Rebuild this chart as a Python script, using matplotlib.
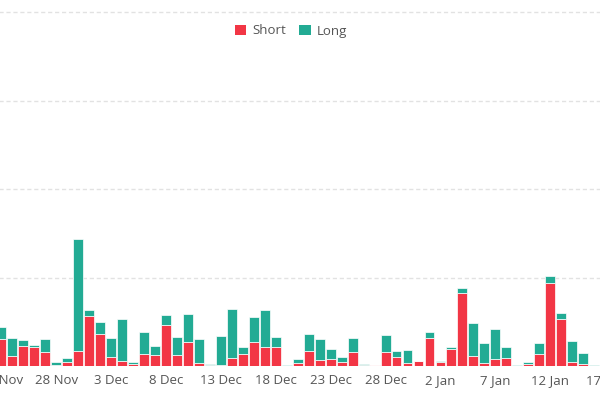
import numpy as np
import pandas as pd
import matplotlib
matplotlib.use("Agg")
import matplotlib.pyplot as plt
import matplotlib.dates as mdates
from matplotlib.patches import Patch

# daily values, 23 Nov .. 16 Jan
dates = pd.date_range("2023-11-23", "2024-01-16", freq="D")
short = [30, 11, 23, 21, 16, 1, 4, 17, 57, 36,
         10, 6, 2, 14, 12, 46, 12, 27, 3, 1,
         1, 9, 14, 27, 22, 21, 0.5, 3, 17, 7,
         8, 4, 16, 1, 0.8, 15.5, 10, 3, 5.5, 32,
         4, 19, 82.5, 11, 3, 7.5, 9, 0.3, 2.6, 13,
         93.5, 53, 5, 2, 0.3]
long = [14, 21, 6, 3, 14, 3, 5, 127, 6, 14,
        22, 47, 3, 24, 11, 12, 21, 32, 27, 1.5,
        33, 55, 8, 28, 41, 12, 0.3, 5, 19, 23,
        11, 6, 16, 1.5, 0.7, 20, 7, 15, 0.3, 6.5,
        2, 2, 5.5, 38, 22.5, 34.5, 13, 0.8, 1.6, 13.5,
        8, 7, 23.5, 12.5, 0.8]
tick_dates = pd.date_range("2023-11-18", "2024-01-22", freq="5D")

red = "#F23645"
green = "#22AB94"
txt = "#555555"

plt.rcParams["font.family"] = ["Open Sans", "DejaVu Sans"]

fig = plt.figure(figsize=(6, 4), dpi=100)
# axes run past both figure edges, so the first and last days are cut off
ax = fig.add_axes([-0.1, 34 / 400, 1.2, 366 / 400])

x = mdates.date2num(dates)
ax.bar(x, short, width=0.9, color=red, edgecolor="white", linewidth=0.5, zorder=2)
ax.bar(x, long, bottom=short, width=0.9, color=green, edgecolor="white", linewidth=0.5, zorder=2)

px_per_day = 11.0
d0 = x[0]
ax.set_xlim(d0 + (-60 - 1.5) / px_per_day, d0 + (660 - 1.5) / px_per_day)
ax.set_ylim(0, 366 / 88.5 * 100)

ax.set_yticks([100, 200, 300, 400])
ax.yaxis.grid(True, color="#e2e2e2", linestyle=(0, (3, 2)), linewidth=1, zorder=0)
ax.set_yticklabels([])
ax.tick_params(axis="y", length=0)

ax.set_xticks(mdates.date2num(tick_dates))
ax.set_xticklabels([d.strftime("%-d %b") for d in tick_dates])
ax.tick_params(axis="x", length=0, pad=6, labelsize=9.5, labelcolor=txt)

for s in ax.spines.values():
    s.set_visible(False)

handles = [Patch(facecolor=red, label="Short"), Patch(facecolor=green, label="Long")]
fig.legend(handles=handles, loc="center", bbox_to_anchor=(291 / 600, 1 - 31 / 400),
           ncol=2, frameon=False, fontsize=9.5, labelcolor=txt,
           handlelength=0.85, handleheight=0.85, handletextpad=0.5, columnspacing=1.0)

fig.savefig("out.png", dpi=100)
